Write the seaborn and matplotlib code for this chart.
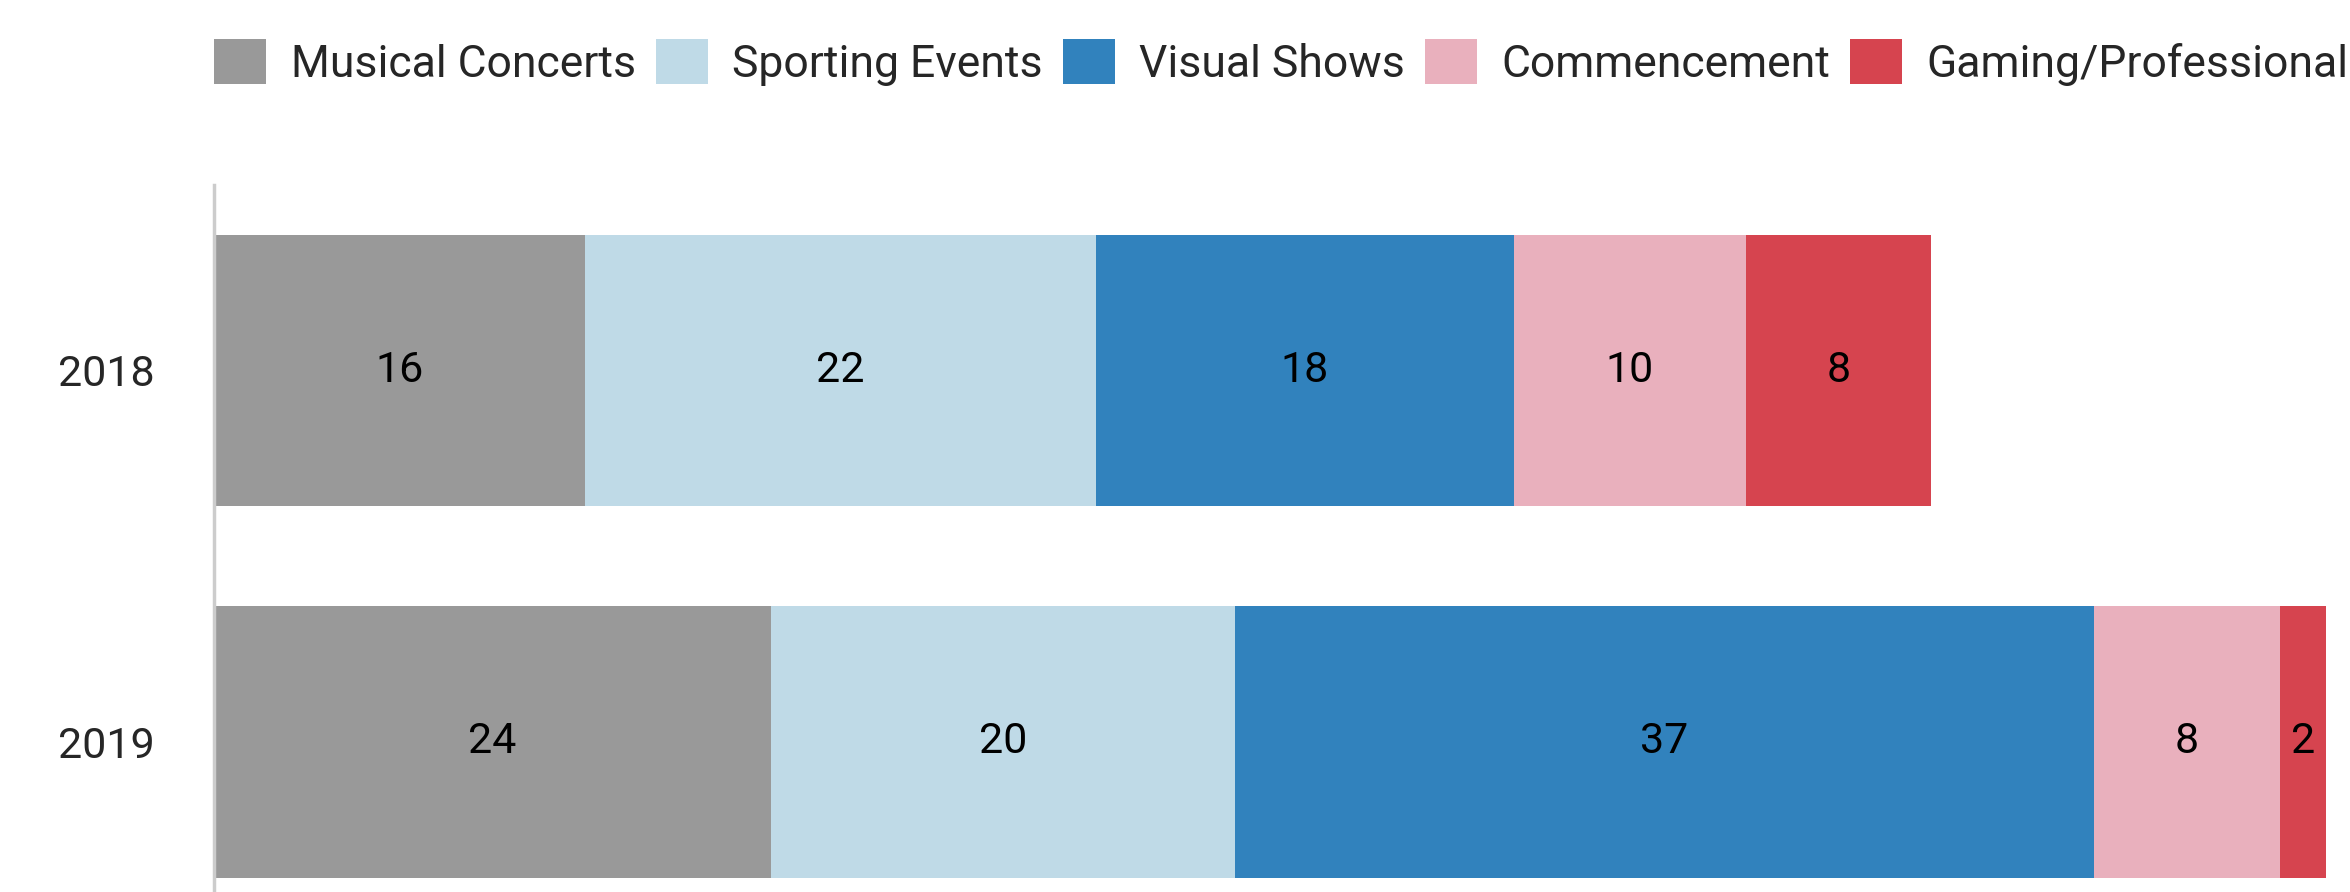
import numpy as np
import pandas as pd
import matplotlib
matplotlib.use("Agg")
import matplotlib.pyplot as plt
import seaborn as sns

# chart data
years = ["2018", "2019"]
categories = ["Musical Concerts", "Sporting Events", "Visual Shows",
              "Commencement", "Gaming/Professional"]
musical = [16, 24]
sporting = [22, 20]
visual = [18, 37]
commencement = [10, 8]
gaming = [8, 2]
colors = ["#999999", "#bfdae7", "#3182bd", "#e9b0bd", "#d6444f"]

series = [musical, sporting, visual, commencement, gaming]

sns.set_theme(style="white")
plt.rcParams["font.family"] = ["Roboto", "DejaVu Sans"]

fig = plt.figure(figsize=(23.5, 8.92), dpi=100)
ax = fig.add_axes([0.0911, -0.040, 0.8987, 0.833])

# cumulative sums, drawn from the outermost segment inwards
cum = np.cumsum(np.array(series), axis=0)
for i in range(len(categories) - 1, -1, -1):
    df = pd.DataFrame({"year": years, "value": cum[i]})
    sns.barplot(data=df, x="value", y="year", orient="h", color=colors[i],
                width=0.73, linewidth=0, saturation=1, ax=ax, label=categories[i])

# value labels in the middle of each segment
for i, vals in enumerate(series):
    starts = cum[i] - np.array(vals)
    for j, v in enumerate(vals):
        ax.text(starts[j] + v / 2, j, str(v), ha="center", va="center",
                fontsize=31, color="black")

ax.set_xlim(0, 91)
ax.set_ylim(1.5, -0.5)
ax.set_xlabel("")
ax.set_ylabel("")
ax.set_xticks([])
ax.tick_params(axis="y", length=0, pad=43, labelsize=31)
for s in ["top", "right", "bottom"]:
    ax.spines[s].set_visible(False)
ax.spines["left"].set_color("#cccccc")
ax.spines["left"].set_linewidth(2.5)

handles, labels = ax.get_legend_handles_labels()
order = [labels.index(c) for c in categories]
ax.legend([handles[k] for k in order], categories, ncol=5, frameon=False,
          loc="center left", bbox_to_anchor=(0.0911, 0.93),
          bbox_transform=fig.transFigure, borderpad=0, borderaxespad=0,
          handlelength=1.17, handleheight=1.17, handletextpad=0.55,
          columnspacing=0.45, fontsize=32)

fig.savefig("out.png", dpi=100)
